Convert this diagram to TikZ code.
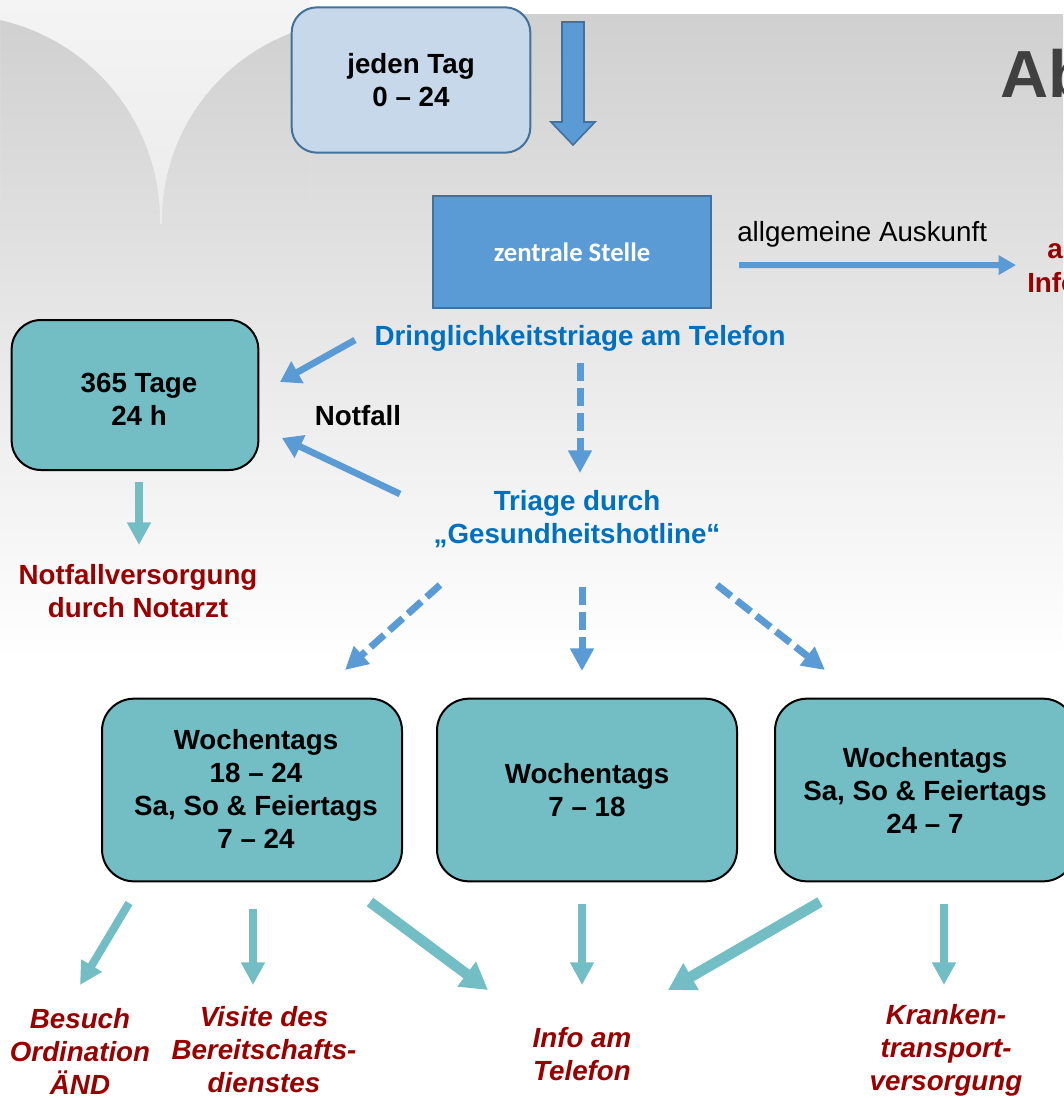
\documentclass[tikz,border=0pt]{standalone}
\usepackage{fontspec}
\setmainfont{Liberation Sans}
\newfontfamily\calfont{Carlito}
\usetikzlibrary{arrows.meta,calc}
\definecolor{tealbox}{RGB}{115,190,197}
\definecolor{arrblue}{RGB}{91,155,213}
\definecolor{bordblue}{RGB}{65,113,156}
\definecolor{txtblue}{RGB}{0,112,192}
\definecolor{dred}{RGB}{153,0,0}
\definecolor{titlegray}{RGB}{64,64,64}
\definecolor{lightbox}{RGB}{198,216,233}
\begin{document}
\begin{tikzpicture}[x=0.75pt,y=-0.75pt,
  every node/.style={font=\fontsize{20.8}{24.75}\selectfont\bfseries, align=center, inner sep=0pt},
  tbox/.style={draw=black, line width=1.5pt, fill=tealbox, rounded corners=24pt,
    minimum width=225pt, minimum height=137pt},
  bluearrow/.style={draw=arrblue, line width=5pt, -{Triangle[width=18pt,length=15pt]}},
  dasharrow/.style={draw=arrblue, line width=5.25pt, dash pattern=on 13.5pt off 5.25pt,
    -{Triangle[width=17pt,length=17pt]}},
  tealarrow/.style={draw=tealbox, line width=6pt, -{Triangle[width=17pt,length=17pt]}},
  tealthick/.style={draw=tealbox, line width=8pt, -{Triangle[width=22pt,length=20pt]}},
  redtext/.style={text=dred, font=\fontsize{20.8}{24.75}\selectfont\bfseries\itshape},
  bluetext/.style={text=txtblue}
]
% ---------- background ----------
\useasboundingbox (0,0) rectangle (1063,1098);
\fill[white] (0,0) rectangle (1063,1098);
\shade[top color={rgb,255:red,208;green,208;blue,208}, bottom color=white]
  (0,15) rectangle (1063,660);
\begin{scope}
  \clip (0,0) rectangle (310,224);
  \shade[even odd rule, top color={rgb,255:red,244;green,244;blue,244},
         bottom color={rgb,255:red,228;green,228;blue,228}]
    (0,0) rectangle (310,224)
    (-45,220) circle[radius=205]
    (362,220) circle[radius=200];
\end{scope}

% ---------- title fragment ----------
\node[anchor=base west, text=titlegray, font=\fontsize{50}{60}\selectfont\bfseries] (title) at (1000,98) {Ab};

% ---------- top ----------
\node[draw=bordblue, line width=1.5pt, fill=lightbox, rounded corners=19pt,
      minimum width=179pt, minimum height=109pt] (jeden) at (411,80) {jeden Tag\\0 – 24};
\draw[bordblue, line width=1.2pt, fill=arrblue]
  (562,22) -- (584,22) -- (584,122) -- (595,122) -- (573,145) -- (551,122) -- (562,122) -- cycle;

\node[draw=bordblue, line width=1.5pt, fill=arrblue, minimum width=208.5pt, minimum height=84pt,
      text=white, font=\calfont\fontsize{20}{24}\selectfont\bfseries] (zentral) at (572,252) {zentrale Stelle};

\node[anchor=base west, font=\fontsize{20.8}{24.75}\selectfont\mdseries] (allg) at (737,241) {allgemeine Auskunft};
\node[anchor=base west, text=dred] (infoA) at (1047,258) {a};
\node[anchor=base west, text=dred] (infoB) at (1027,292) {Info};
\draw[draw=arrblue, line width=4.5pt, -{Triangle[width=14pt,length=13pt]}]
  ($(zentral.east)+(27,13)$) -- ($(infoB.west)+(-11,-17)$);

\node[bluetext] (drin) at (580,338) {Dringlichkeitstriage am Telefon};

% ---------- 365 ----------
\node[draw=black, line width=1.5pt, fill=tealbox, rounded corners=22pt,
      minimum width=185pt, minimum height=112.5pt] (b365) at (135,395) {};
\node (t365) at (139,399) {365 Tage\\24 h};
\node (notfall) at (358,416) {Notfall};
\node[bluetext] (triage) at (577,519) {Triage durch\\„Gesundheitshotline“};
\node[text=dred] (notarzt) at (138,591) {Notfallversorgung\\durch Notarzt};

\draw[bluearrow] ($(drin)+(-225,2)$) -- ($(b365)+(145,-13)$);
\draw[bluearrow] ($(triage)+(-177,-25)$) -- ($(b365)+(147,43)$);
\draw[dasharrow] ($(drin)+(0,25)$) -- ($(triage)+(3,-46)$);
\draw[tealarrow] ($(b365)+(4,87)$) -- ($(notarzt)+(1,-46)$);

% ---------- three boxes ----------
\node[tbox] (wL) at (252,790) {};
\node (tL) at (256,789) {Wochentags\\18 – 24\\Sa, So \& Feiertags\\7 – 24};
\node[tbox] (wM) at (587,790) {Wochentags\\7 – 18};
\node[tbox] (wR) at (925,790) {Wochentags\\Sa, So \& Feiertags\\24 – 7};

\draw[dasharrow] ($(triage)+(-137,66)$) -- ($(wL)+(93,-120)$);
\draw[dasharrow] ($(triage)+(5,68)$) -- ($(wM)+(-5,-119)$);
\draw[dasharrow] ($(triage)+(140,66)$) -- ($(wR)+(-100,-120)$);

% ---------- bottom texts ----------
\node[redtext] (besuch) at (80,1051) {Besuch\\Ordination\\ÄND};
\node[redtext] (visite) at (264,1050) {Visite des\\Bereitschafts-\\dienstes};
\node[redtext] (info) at (582,1054) {Info am\\Telefon};
\node[redtext] (kranken) at (946,1050) {Kranken-\\transport-\\versorgung};

\draw[tealarrow] ($(wL)+(-123,113)$) -- ($(besuch)+(0,-66)$);
\draw[tealarrow] ($(wL)+(1,119)$) -- ($(visite)+(-11,-65)$);
\draw[tealthick] ($(wL)+(118,112)$) -- ($(info)+(-94,-64)$);
\draw[tealarrow] ($(wM)+(-5,114)$) -- ($(info)+(0,-69)$);
\draw[tealthick] ($(wR)+(-105,112)$) -- ($(info)+(86,-64)$);
\draw[tealarrow] ($(wR)+(19,114)$) -- ($(kranken)+(-2,-65)$);
\end{tikzpicture}
\end{document}
